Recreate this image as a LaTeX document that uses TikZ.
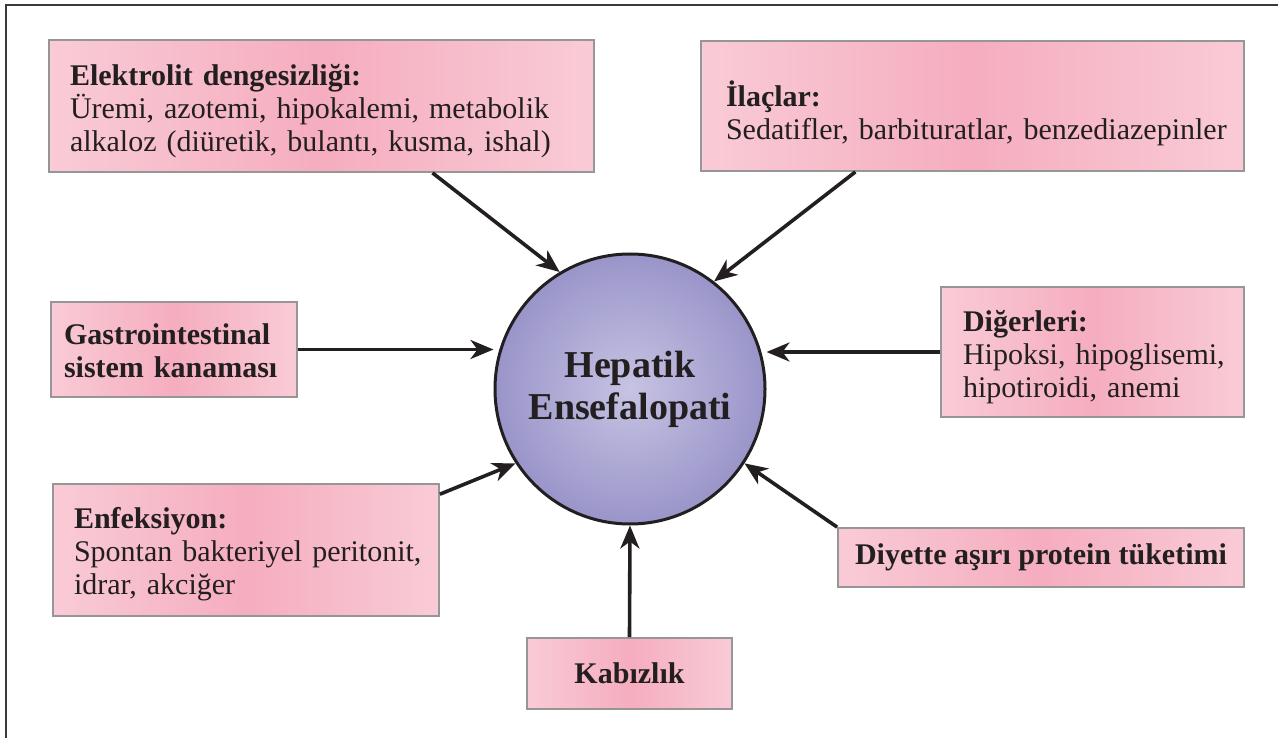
\documentclass[tikz,border=0pt]{standalone}
\usepackage{fontspec}
\setmainfont{Liberation Serif}
\usetikzlibrary{arrows.meta,calc}

\definecolor{ink}{HTML}{231F20}
\definecolor{pkedge}{HTML}{F9CBD6}
\definecolor{pkmid}{HTML}{F5ADBF}
\definecolor{boxline}{HTML}{969696}
\definecolor{frameline}{HTML}{3A3A3A}
\definecolor{orbin}{HTML}{C6C3E3}
\definecolor{orbout}{HTML}{9A95C9}

\pgfdeclarehorizontalshading{pinkband}{100bp}{color(0bp)=(pkedge); color(25bp)=(pkedge); color(50bp)=(pkmid); color(75bp)=(pkedge); color(100bp)=(pkedge)}

\newcommand{\Ln}[1]{\mbox{#1}}

\tikzset{
  causebox/.style={draw=boxline, line width=1.8pt, shading=pinkband, inner sep=0pt},
  causetext/.style={inner sep=0pt, text=ink, align=left,
    font=\fontsize{30}{33}\selectfont},
  causebold/.style={causebox, text=ink, align=center,
    font=\bfseries\fontsize{30}{33}\selectfont},
  feed/.style={draw=ink, line width=3.6pt, -{Stealth[length=23pt,width=19pt,inset=7pt]}},
  hub/.style={circle, draw=ink, line width=3pt, inner color=orbin, outer color=orbout,
    minimum size=270pt, inner sep=0pt, text=ink, align=center,
    font=\bfseries\fontsize{38}{42}\selectfont},
}

\begin{document}
\begin{tikzpicture}[x=1pt, y=-1pt]
\useasboundingbox (0,0) rectangle (1278,738);

% page frame (top and left edges)
\draw[frameline, line width=2pt] (1278,5) -- (6,5) -- (6,738);

% central condition
\node[hub] (he) at (630,389) {Hepatik\\Ensefalopati};

% contributing factors: boxes
\node[causebox, minimum width=545pt, minimum height=132pt] (b1) at (321.5,106) {};
\node[causebox, minimum width=543pt, minimum height=130pt] (b2) at (972.5,106) {};
\node[causebox, minimum width=246pt, minimum height=95pt]  (b3) at (174,349.5) {};
\node[causebox, minimum width=303pt, minimum height=130pt] (b4) at (1092.5,352) {};
\node[causebox, minimum width=386pt, minimum height=132pt] (b5) at (246,550) {};
\node[causebold, minimum width=406pt, minimum height=59pt] (b6) at (1041,557.5)
  {Diyette aşırı protein tüketimi};
\node[causebold, minimum width=205pt, minimum height=71pt] (b7) at (629.5,673.5)
  {Kabızlık};

% contributing factors: texts
\node[causetext, text width=503pt] (t1) at ([yshift=-5pt]b1.center)
  {\Ln{\textbf{Elektrolit dengesizliği:}}\\\Ln{Üremi, azotemi, hipokalemi, metabolik}\\\Ln{alkaloz (diüretik, bulantı, kusma, ishal)}};
\node[causetext, text width=493pt] (t2) at ([yshift=-7pt]b2.center)
  {\Ln{\textbf{İlaçlar:}}\\\Ln{Sedatifler, barbituratlar, benzediazepinler}};
\node[causetext, text width=220pt] (t3) at ([yshift=-1.5pt]b3.center)
  {\Ln{\textbf{Gastrointestinal}}\\\Ln{\textbf{sistem kanaması}}};
\node[causetext, text width=259pt] (t4) at ([yshift=-5pt]b4.center)
  {\Ln{\textbf{Diğerleri:}}\\\Ln{Hipoksi, hipoglisemi,}\\\Ln{hipotiroidi, anemi}};
\node[causetext, text width=344pt] (t5) at ([yshift=-4.5pt]b5.center)
  {\Ln{\textbf{Enfeksiyon:}}\\\Ln{Spontan bakteriyel peritonit,}\\\Ln{idrar, akciğer}};

% arrows into the centre
\draw[feed] ($(b1.south west)!0.703!(b1.south east)$) -- (he.121.8);
\draw[feed] ($(b2.south west)!0.285!(b2.south east)$) -- (he.52);
\draw[feed] (b3.east) -- (b3.east -| he.west);
\draw[feed] (b4.west) -- (b4.west -| he.east);
\draw[feed] ($(b5.north east)!0.083!(b5.south east)$) -- (he.213);
\draw[feed] (b6.north west) -- (he.327);
\draw[feed] (b7.north) -- (he.south);
\end{tikzpicture}
\end{document}
